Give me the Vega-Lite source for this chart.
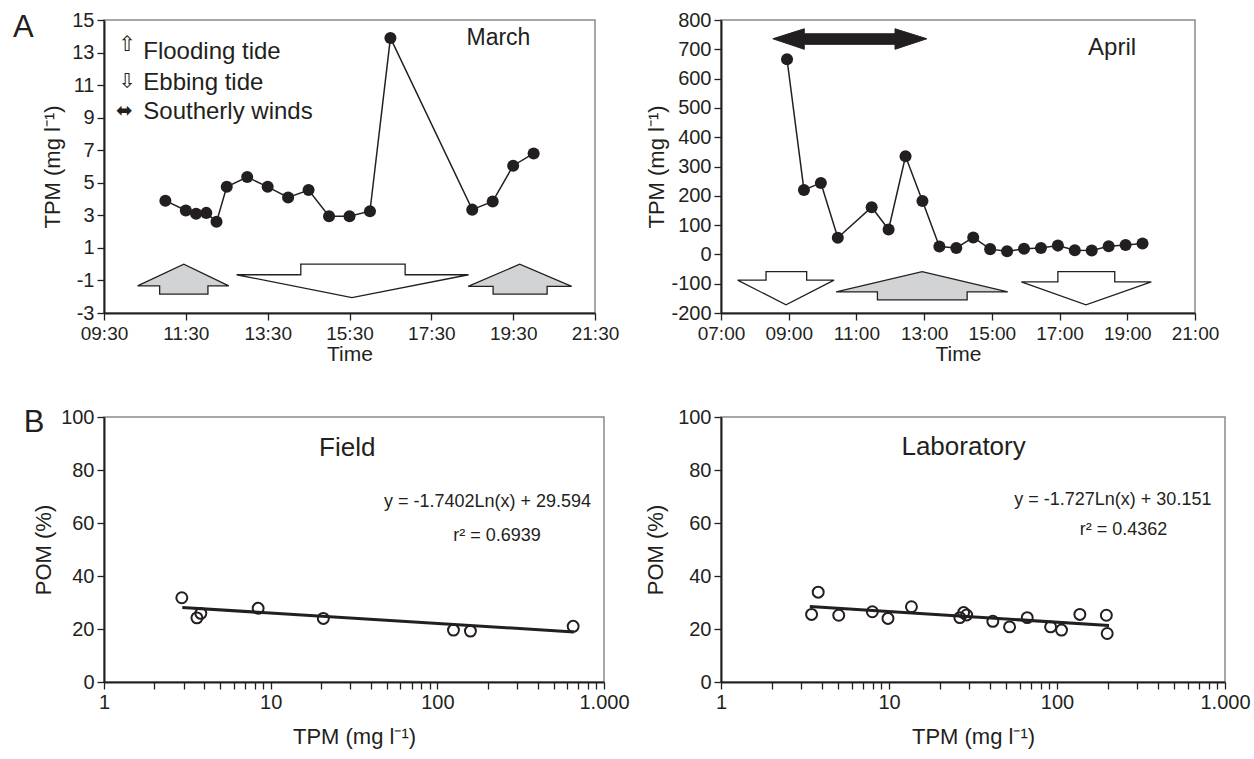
{
  "$schema": "https://vega.github.io/schema/vega-lite/v6.json",
  "background": "white",
  "padding": {"left": 12, "top": 9, "right": 10, "bottom": 6},
  "bounds": "flush",
  "align": "each",
  "columns": 2,
  "spacing": {"row": 104, "column": 117},
  "config": {
    "font": "Liberation Sans",
    "view": {"stroke": "#8a8a8a", "strokeWidth": 1.5},
    "axis": {
      "domainColor": "#231f20", "domainWidth": 2, "tickColor": "#231f20", "tickWidth": 1.3, "tickSize": 7,
      "labelFont": "Liberation Sans", "labelFontSize": 20, "labelColor": "#231f20", "labelPadding": 3,
      "titleFont": "Liberation Sans", "titleFontSize": 22, "titleFontWeight": "normal", "titleColor": "#231f20",
      "grid": false, "labelFlush": false, "labelOverlap": false
    },
    "text": {"color": "#231f20", "font": "Liberation Sans"}
  },
  "datasets": {
    "march": [
      {"hour": 11, "TPM": 3.9}, {"hour": 11.5, "TPM": 3.3}, {"hour": 11.75, "TPM": 3.1}, {"hour": 12, "TPM": 3.15},
      {"hour": 12.25, "TPM": 2.6}, {"hour": 12.5, "TPM": 4.75}, {"hour": 13, "TPM": 5.35}, {"hour": 13.5, "TPM": 4.75},
      {"hour": 14, "TPM": 4.1}, {"hour": 14.5, "TPM": 4.55}, {"hour": 15, "TPM": 2.95}, {"hour": 15.5, "TPM": 2.95},
      {"hour": 16, "TPM": 3.25}, {"hour": 16.5, "TPM": 13.9}, {"hour": 18.5, "TPM": 3.35}, {"hour": 19, "TPM": 3.85},
      {"hour": 19.5, "TPM": 6.05}, {"hour": 20, "TPM": 6.8}
    ],
    "marchFlood": [
      {"arrow": "f1", "i": 1, "hour": 10.32, "TPM": -1.33}, {"arrow": "f1", "i": 2, "hour": 11.45, "TPM": 0},
      {"arrow": "f1", "i": 3, "hour": 12.55, "TPM": -1.33}, {"arrow": "f1", "i": 4, "hour": 12.04, "TPM": -1.33},
      {"arrow": "f1", "i": 5, "hour": 12.04, "TPM": -1.84}, {"arrow": "f1", "i": 6, "hour": 10.86, "TPM": -1.84},
      {"arrow": "f1", "i": 7, "hour": 10.86, "TPM": -1.33}, {"arrow": "f1", "i": 8, "hour": 10.32, "TPM": -1.33},
      {"arrow": "f2", "i": 1, "hour": 18.4, "TPM": -1.37}, {"arrow": "f2", "i": 2, "hour": 19.66, "TPM": 0},
      {"arrow": "f2", "i": 3, "hour": 20.93, "TPM": -1.37}, {"arrow": "f2", "i": 4, "hour": 20.33, "TPM": -1.37},
      {"arrow": "f2", "i": 5, "hour": 20.33, "TPM": -1.84}, {"arrow": "f2", "i": 6, "hour": 19.01, "TPM": -1.84},
      {"arrow": "f2", "i": 7, "hour": 19.01, "TPM": -1.37}, {"arrow": "f2", "i": 8, "hour": 18.4, "TPM": -1.37}
    ],
    "marchEbb": [
      {"arrow": "e1", "i": 1, "hour": 12.74, "TPM": -0.65}, {"arrow": "e1", "i": 2, "hour": 14.31, "TPM": -0.65},
      {"arrow": "e1", "i": 3, "hour": 14.31, "TPM": 0}, {"arrow": "e1", "i": 4, "hour": 16.86, "TPM": 0},
      {"arrow": "e1", "i": 5, "hour": 16.86, "TPM": -0.65}, {"arrow": "e1", "i": 6, "hour": 18.41, "TPM": -0.65},
      {"arrow": "e1", "i": 7, "hour": 15.56, "TPM": -2.05}, {"arrow": "e1", "i": 8, "hour": 12.74, "TPM": -0.65}
    ],
    "april": [
      {"hour": 8.95, "TPM": 666}, {"hour": 9.45, "TPM": 220}, {"hour": 9.95, "TPM": 244}, {"hour": 10.45, "TPM": 57},
      {"hour": 11.45, "TPM": 161}, {"hour": 11.95, "TPM": 85}, {"hour": 12.45, "TPM": 335}, {"hour": 12.95, "TPM": 182},
      {"hour": 13.45, "TPM": 27}, {"hour": 13.95, "TPM": 22}, {"hour": 14.45, "TPM": 58}, {"hour": 14.95, "TPM": 18},
      {"hour": 15.45, "TPM": 11}, {"hour": 15.95, "TPM": 19}, {"hour": 16.45, "TPM": 22}, {"hour": 16.95, "TPM": 30},
      {"hour": 17.45, "TPM": 14}, {"hour": 17.95, "TPM": 13}, {"hour": 18.45, "TPM": 28}, {"hour": 18.95, "TPM": 32},
      {"hour": 19.45, "TPM": 37}
    ],
    "aprilFlood": [
      {"arrow": "f1", "i": 1, "hour": 10.4, "TPM": -128}, {"arrow": "f1", "i": 2, "hour": 12.94, "TPM": -59},
      {"arrow": "f1", "i": 3, "hour": 15.47, "TPM": -128}, {"arrow": "f1", "i": 4, "hour": 14.27, "TPM": -128},
      {"arrow": "f1", "i": 5, "hour": 14.27, "TPM": -155}, {"arrow": "f1", "i": 6, "hour": 11.62, "TPM": -155},
      {"arrow": "f1", "i": 7, "hour": 11.62, "TPM": -128}, {"arrow": "f1", "i": 8, "hour": 10.4, "TPM": -128}
    ],
    "aprilEbb": [
      {"arrow": "e1", "i": 1, "hour": 7.49, "TPM": -88}, {"arrow": "e1", "i": 2, "hour": 8.33, "TPM": -88},
      {"arrow": "e1", "i": 3, "hour": 8.33, "TPM": -59}, {"arrow": "e1", "i": 4, "hour": 9.53, "TPM": -59},
      {"arrow": "e1", "i": 5, "hour": 9.53, "TPM": -88}, {"arrow": "e1", "i": 6, "hour": 10.34, "TPM": -88},
      {"arrow": "e1", "i": 7, "hour": 8.92, "TPM": -172}, {"arrow": "e1", "i": 8, "hour": 7.49, "TPM": -88},
      {"arrow": "e2", "i": 1, "hour": 15.87, "TPM": -94}, {"arrow": "e2", "i": 2, "hour": 16.95, "TPM": -94},
      {"arrow": "e2", "i": 3, "hour": 16.95, "TPM": -59}, {"arrow": "e2", "i": 4, "hour": 18.63, "TPM": -59},
      {"arrow": "e2", "i": 5, "hour": 18.63, "TPM": -94}, {"arrow": "e2", "i": 6, "hour": 19.71, "TPM": -94},
      {"arrow": "e2", "i": 7, "hour": 17.78, "TPM": -172}, {"arrow": "e2", "i": 8, "hour": 15.87, "TPM": -94}
    ],
    "aprilWind": [
      {"i": 1, "hour": 8.53, "TPM": 736}, {"i": 2, "hour": 9.46, "TPM": 770}, {"i": 3, "hour": 9.46, "TPM": 753},
      {"i": 4, "hour": 12.14, "TPM": 753}, {"i": 5, "hour": 12.14, "TPM": 770}, {"i": 6, "hour": 13.08, "TPM": 736},
      {"i": 7, "hour": 12.14, "TPM": 700}, {"i": 8, "hour": 12.14, "TPM": 717}, {"i": 9, "hour": 9.46, "TPM": 717},
      {"i": 10, "hour": 9.46, "TPM": 700}, {"i": 11, "hour": 8.53, "TPM": 736}
    ],
    "field": [
      {"TPM": 2.93, "POM": 31.8}, {"TPM": 3.61, "POM": 24.2}, {"TPM": 3.81, "POM": 25.9}, {"TPM": 8.41, "POM": 27.8},
      {"TPM": 20.7, "POM": 24.0}, {"TPM": 125, "POM": 19.6}, {"TPM": 158, "POM": 19.2}, {"TPM": 653, "POM": 21.0}
    ],
    "fieldFit": [{"TPM": 2.95, "POM": 28.1}, {"TPM": 660, "POM": 18.9}],
    "lab": [
      {"TPM": 3.46, "POM": 25.5}, {"TPM": 3.79, "POM": 33.9}, {"TPM": 5.02, "POM": 25.2}, {"TPM": 7.96, "POM": 26.5},
      {"TPM": 9.86, "POM": 24.0}, {"TPM": 13.6, "POM": 28.4}, {"TPM": 26.4, "POM": 24.3}, {"TPM": 27.8, "POM": 26.2},
      {"TPM": 29.0, "POM": 25.3}, {"TPM": 41.5, "POM": 22.9}, {"TPM": 52.2, "POM": 20.8}, {"TPM": 66.5, "POM": 24.3},
      {"TPM": 91.6, "POM": 20.8}, {"TPM": 106.4, "POM": 19.6}, {"TPM": 136.8, "POM": 25.5}, {"TPM": 196.7, "POM": 25.2},
      {"TPM": 199, "POM": 18.3}
    ],
    "labFit": [{"TPM": 3.38, "POM": 28.5}, {"TPM": 204, "POM": 21.3}]
  },
  "concat": [
    {
      "width": 491,
      "height": 293,
      "layer": [
        {"data": {"name": "marchFlood"}, "mark": {"type": "line", "fill": "#d1d3d4", "stroke": "#231f20", "strokeWidth": 1.3},
          "encoding": {
            "x": {"field": "hour", "type": "quantitative", "scale": {"domain": [9.5, 21.5], "nice": false, "zero": false},
              "axis": {"title": "Time", "values": [9.5, 11.5, 13.5, 15.5, 17.5, 19.5, 21.5], "tickCount": 30, "titlePadding": 0, "labelPadding": 4, "labelFontSize": 19, "titleFontSize": 21,
                "labelExpr": "(floor(datum.value) < 10 ? '0' : '') + floor(datum.value) + ':' + (datum.value % 1 == 0 ? '00' : '30')"}},
            "y": {"field": "TPM", "type": "quantitative", "scale": {"domain": [-3, 15], "nice": false, "zero": false},
              "axis": {"title": "TPM (mg l⁻¹)", "values": [-3, -1, 1, 3, 5, 7, 9, 11, 13, 15], "tickCount": 30, "titlePadding": 7,
                "labelExpr": "'' + datum.value"}},
            "order": {"field": "i", "type": "quantitative"}, "detail": {"field": "arrow"}}},
        {"data": {"name": "marchEbb"}, "mark": {"type": "line", "fill": "white", "stroke": "#231f20", "strokeWidth": 1.3},
          "encoding": {
            "x": {"field": "hour", "type": "quantitative"},
            "y": {"field": "TPM", "type": "quantitative"},
            "order": {"field": "i", "type": "quantitative"}, "detail": {"field": "arrow"}}},
        {"data": {"name": "march"}, "mark": {"type": "line", "color": "#231f20", "strokeWidth": 1.5,
          "point": {"filled": true, "size": 145, "color": "#231f20"}},
          "encoding": {
            "x": {"field": "hour", "type": "quantitative"},
            "y": {"field": "TPM", "type": "quantitative"}}},
        {"data": {"values": [{}]}, "mark": {"type": "text", "fontSize": 23, "align": "center", "baseline": "middle"},
          "encoding": {"x": {"datum": 19.14}, "y": {"datum": 13.9}, "text": {"value": "March"}}},
        {"data": {"values": [{}]}, "mark": {"type": "text", "fontSize": 24, "align": "left", "baseline": "middle"},
          "encoding": {"x": {"datum": 10.46}, "y": {"datum": 13.06}, "text": {"value": "Flooding tide"}}},
        {"data": {"values": [{}]}, "mark": {"type": "text", "fontSize": 24, "align": "left", "baseline": "middle"},
          "encoding": {"x": {"datum": 10.46}, "y": {"datum": 11.16}, "text": {"value": "Ebbing tide"}}},
        {"data": {"values": [{}]}, "mark": {"type": "text", "fontSize": 24, "align": "left", "baseline": "middle"},
          "encoding": {"x": {"datum": 10.46}, "y": {"datum": 9.32}, "text": {"value": "Southerly winds"}}},
        {"data": {"values": [{}]}, "mark": {"type": "text", "font": "DejaVu Sans", "fontSize": 21, "align": "center", "baseline": "middle"},
          "encoding": {"x": {"datum": 10.07}, "y": {"datum": 13.45}, "text": {"value": "⇧"}}},
        {"data": {"values": [{}]}, "mark": {"type": "text", "font": "DejaVu Sans", "fontSize": 21, "align": "center", "baseline": "middle"},
          "encoding": {"x": {"datum": 10.07}, "y": {"datum": 11.2}, "text": {"value": "⇩"}}},
        {"data": {"values": [{}]}, "mark": {"type": "text", "font": "DejaVu Sans", "fontSize": 20, "align": "center", "baseline": "middle"},
          "encoding": {"x": {"datum": 10.0}, "y": {"datum": 9.38}, "text": {"value": "⬌"}}},
        {"data": {"values": [{}]}, "mark": {"type": "text", "fontSize": 31, "align": "center", "baseline": "middle"},
          "encoding": {"x": {"datum": 7.53}, "y": {"datum": 14.5}, "text": {"value": "A"}}}
      ]
    },
    {
      "width": 474,
      "height": 293,
      "layer": [
        {"data": {"name": "aprilEbb"}, "mark": {"type": "line", "fill": "white", "stroke": "#231f20", "strokeWidth": 1.3},
          "encoding": {
            "x": {"field": "hour", "type": "quantitative", "scale": {"domain": [7, 21], "nice": false, "zero": false},
              "axis": {"title": "Time", "values": [7, 9, 11, 13, 15, 17, 19, 21], "tickCount": 30, "titlePadding": 0, "labelPadding": 4, "labelFontSize": 19, "titleFontSize": 21,
                "labelExpr": "(floor(datum.value) < 10 ? '0' : '') + floor(datum.value) + ':' + (datum.value % 1 == 0 ? '00' : '30')"}},
            "y": {"field": "TPM", "type": "quantitative", "scale": {"domain": [-200, 800], "nice": false, "zero": false},
              "axis": {"title": "TPM (mg l⁻¹)", "values": [-200, -100, 0, 100, 200, 300, 400, 500, 600, 700, 800], "tickCount": 30, "titlePadding": 2,
                "labelExpr": "'' + datum.value"}},
            "order": {"field": "i", "type": "quantitative"}, "detail": {"field": "arrow"}}},
        {"data": {"name": "aprilFlood"}, "mark": {"type": "line", "fill": "#d1d3d4", "stroke": "#231f20", "strokeWidth": 1.3},
          "encoding": {
            "x": {"field": "hour", "type": "quantitative"},
            "y": {"field": "TPM", "type": "quantitative"},
            "order": {"field": "i", "type": "quantitative"}, "detail": {"field": "arrow"}}},
        {"data": {"name": "aprilWind"}, "mark": {"type": "line", "fill": "#231f20", "stroke": "#231f20", "strokeWidth": 1},
          "encoding": {
            "x": {"field": "hour", "type": "quantitative"},
            "y": {"field": "TPM", "type": "quantitative"},
            "order": {"field": "i", "type": "quantitative"}}},
        {"data": {"name": "april"}, "mark": {"type": "line", "color": "#231f20", "strokeWidth": 1.5,
          "point": {"filled": true, "size": 145, "color": "#231f20"}},
          "encoding": {
            "x": {"field": "hour", "type": "quantitative"},
            "y": {"field": "TPM", "type": "quantitative"}}},
        {"data": {"values": [{}]}, "mark": {"type": "text", "fontSize": 24, "align": "center", "baseline": "middle"},
          "encoding": {"x": {"datum": 18.55}, "y": {"datum": 703}, "text": {"value": "April"}}}
      ]
    },
    {
      "width": 500,
      "height": 265,
      "layer": [
        {"data": {"name": "fieldFit"}, "mark": {"type": "line", "color": "#231f20", "strokeWidth": 3},
          "encoding": {
            "x": {"field": "TPM", "type": "quantitative", "scale": {"type": "log", "domain": [1, 1000], "nice": false},
              "axis": {"title": "TPM (mg l⁻¹)", "titlePadding": 14, "tickCount": 60,
                "values": [1, 2, 3, 4, 5, 6, 7, 8, 9, 10, 20, 30, 40, 50, 60, 70, 80, 90, 100, 200, 300, 400, 500, 600, 700, 800, 900, 1000],
                "labelExpr": "datum.value == 1 ? '1' : datum.value == 10 ? '10' : datum.value == 100 ? '100' : datum.value == 1000 ? '1.000' : ''"}},
            "y": {"field": "POM", "type": "quantitative", "scale": {"domain": [0, 100], "nice": false},
              "axis": {"title": "POM (%)", "values": [0, 20, 40, 60, 80, 100], "tickCount": 30, "titlePadding": 5}}}},
        {"data": {"name": "field"}, "mark": {"type": "point", "filled": false, "color": "#231f20", "strokeWidth": 2, "size": 120, "opacity": 1},
          "encoding": {
            "x": {"field": "TPM", "type": "quantitative"},
            "y": {"field": "POM", "type": "quantitative"}}},
        {"data": {"values": [{}]}, "mark": {"type": "text", "fontSize": 26, "align": "center", "baseline": "middle"},
          "encoding": {"x": {"datum": 28.8}, "y": {"datum": 88.4}, "text": {"value": "Field"}}},
        {"data": {"values": [{}]}, "mark": {"type": "text", "fontSize": 18, "align": "center", "baseline": "middle"},
          "encoding": {"x": {"datum": 200}, "y": {"datum": 68}, "text": {"value": "y = -1.7402Ln(x) + 29.594"}}},
        {"data": {"values": [{}]}, "mark": {"type": "text", "fontSize": 18, "align": "center", "baseline": "middle"},
          "encoding": {"x": {"datum": 228}, "y": {"datum": 55}, "text": {"value": "r² = 0.6939"}}},
        {"data": {"values": [{}]}, "mark": {"type": "text", "fontSize": 31, "align": "center", "baseline": "middle"},
          "encoding": {"x": {"datum": 0.381}, "y": {"datum": 97.7}, "text": {"value": "B"}}}
      ]
    },
    {
      "width": 504,
      "height": 265,
      "layer": [
        {"data": {"name": "labFit"}, "mark": {"type": "line", "color": "#231f20", "strokeWidth": 3},
          "encoding": {
            "x": {"field": "TPM", "type": "quantitative", "scale": {"type": "log", "domain": [1, 1000], "nice": false},
              "axis": {"title": "TPM (mg l⁻¹)", "titlePadding": 14, "tickCount": 60,
                "values": [1, 2, 3, 4, 5, 6, 7, 8, 9, 10, 20, 30, 40, 50, 60, 70, 80, 90, 100, 200, 300, 400, 500, 600, 700, 800, 900, 1000],
                "labelExpr": "datum.value == 1 ? '1' : datum.value == 10 ? '10' : datum.value == 100 ? '100' : datum.value == 1000 ? '1.000' : ''"}},
            "y": {"field": "POM", "type": "quantitative", "scale": {"domain": [0, 100], "nice": false},
              "axis": {"title": "POM (%)", "values": [0, 20, 40, 60, 80, 100], "tickCount": 30, "titlePadding": 10}}}},
        {"data": {"name": "lab"}, "mark": {"type": "point", "filled": false, "color": "#231f20", "strokeWidth": 2, "size": 120, "opacity": 1},
          "encoding": {
            "x": {"field": "TPM", "type": "quantitative"},
            "y": {"field": "POM", "type": "quantitative"}}},
        {"data": {"values": [{}]}, "mark": {"type": "text", "fontSize": 26, "align": "center", "baseline": "middle"},
          "encoding": {"x": {"datum": 27.8}, "y": {"datum": 88.8}, "text": {"value": "Laboratory"}}},
        {"data": {"values": [{}]}, "mark": {"type": "text", "fontSize": 18, "align": "center", "baseline": "middle"},
          "encoding": {"x": {"datum": 215}, "y": {"datum": 68.5}, "text": {"value": "y = -1.727Ln(x) + 30.151"}}},
        {"data": {"values": [{}]}, "mark": {"type": "text", "fontSize": 18, "align": "center", "baseline": "middle"},
          "encoding": {"x": {"datum": 249}, "y": {"datum": 57.3}, "text": {"value": "r² = 0.4362"}}}
      ]
    }
  ]
}
